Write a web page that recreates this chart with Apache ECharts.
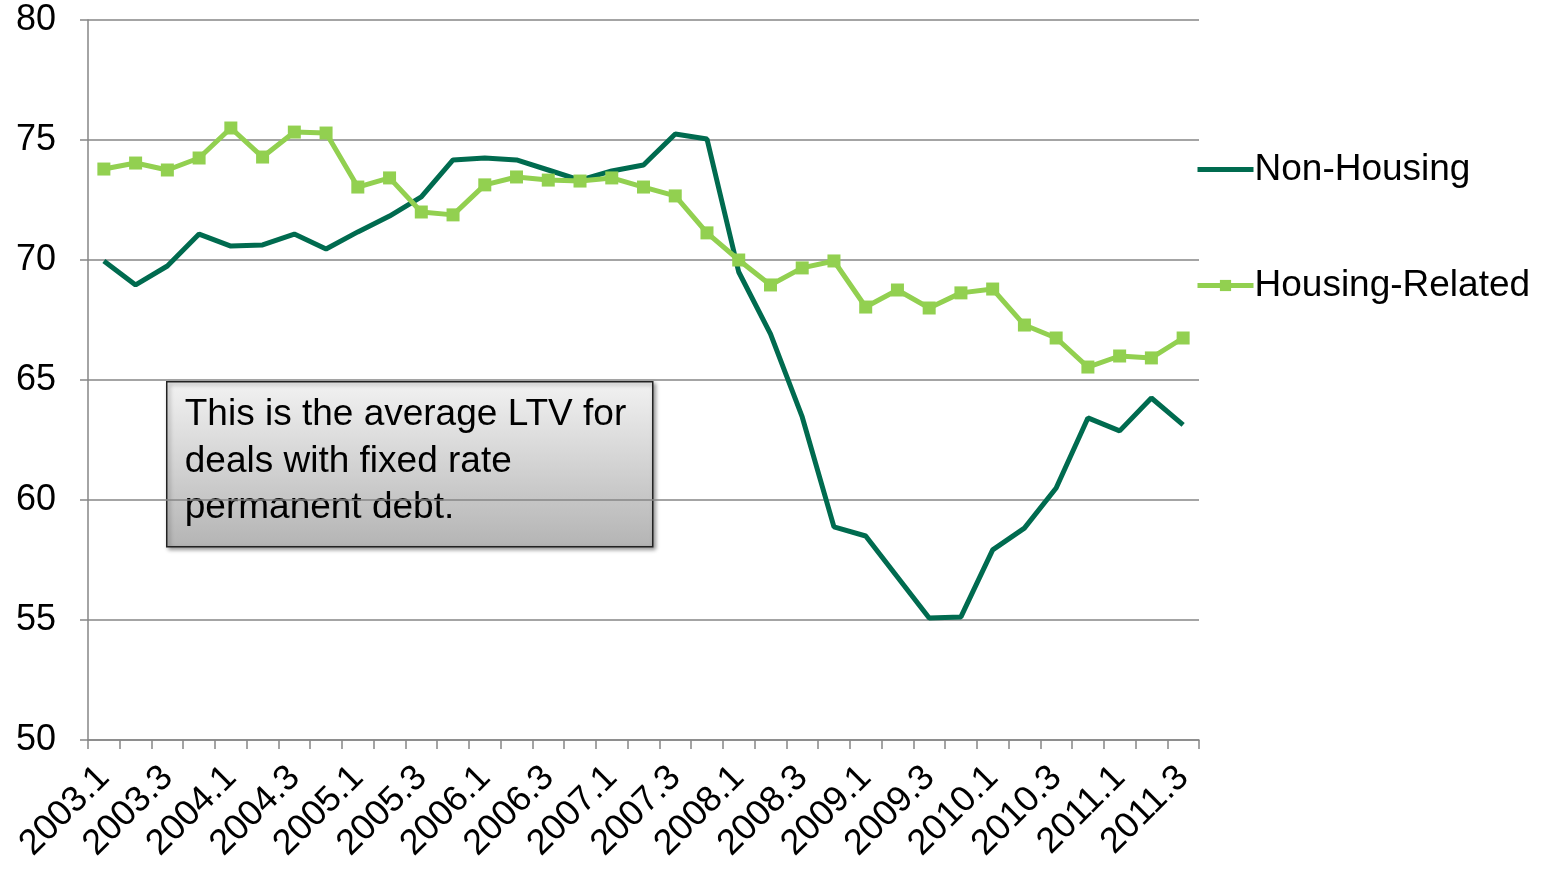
<!DOCTYPE html>
<html>
<head>
<meta charset="utf-8">
<script src="https://cdn.jsdelivr.net/npm/echarts@6/dist/echarts.min.js"></script>
<style>
html,body{margin:0;padding:0;background:#fff;}
#chart{width:1552px;height:869px;}
</style>
</head>
<body>
<div id="chart"></div>
<script>
const categories = ['2003.1','2003.2','2003.3','2003.4','2004.1','2004.2','2004.3','2004.4','2005.1','2005.2','2005.3','2005.4','2006.1','2006.2','2006.3','2006.4','2007.1','2007.2','2007.3','2007.4','2008.1','2008.2','2008.3','2008.4','2009.1','2009.2','2009.3','2009.4','2010.1','2010.2','2010.3','2010.4','2011.1','2011.2','2011.3'];
const nonHousing = [69.96,68.96,69.75,71.08,70.58,70.63,71.08,70.46,71.17,71.83,72.63,74.17,74.25,74.17,73.75,73.33,73.71,73.96,75.25,75.04,69.5,66.92,63.46,58.88,58.5,56.79,55.08,55.13,57.92,58.83,60.5,63.42,62.88,64.25,63.13];
const housingRelated = [73.79,74.04,73.75,74.25,75.5,74.29,75.33,75.29,73.04,73.42,72.0,71.88,73.13,73.46,73.33,73.29,73.42,73.04,72.67,71.13,70.0,68.96,69.67,69.96,68.04,68.75,68.0,68.63,68.79,67.29,66.75,65.54,66.0,65.92,66.75];
const yTicks = {min: 50, max: 80, interval: 5};
const noteText = 'This is the average LTV for\ndeals with fixed rate\npermanent debt.';

const FONT = '"Liberation Sans", Arial, sans-serif';
const chart = echarts.init(document.getElementById('chart'));
chart.setOption({
  animation: false,
  backgroundColor: '#fff',
  textStyle: {fontFamily: FONT},
  grid: {left: 88, right: 353, top: 20, bottom: 129, containLabel: false},
  xAxis: {
    type: 'category',
    data: categories,
    boundaryGap: true,
    axisLine: {lineStyle: {color: '#868686', width: 1.5}},
    axisTick: {show: true, interval: 0, length: 9, lineStyle: {color: '#868686', width: 1.5}},
    axisLabel: {interval: 1, rotate: 45, fontSize: 36, color: '#000', fontFamily: FONT, margin: 32}
  },
  yAxis: {
    type: 'value',
    min: yTicks.min, max: yTicks.max, interval: yTicks.interval,
    axisLine: {show: true, lineStyle: {color: '#868686', width: 1.5}},
    axisTick: {show: true, length: 8, lineStyle: {color: '#868686', width: 1.5}},
    axisLabel: {fontSize: 36, color: '#000', fontFamily: FONT, margin: 32},
    splitLine: {lineStyle: {color: '#868686', width: 1.5}}
  },
  legend: {
    orient: 'vertical',
    left: 1190,
    top: 146,
    itemGap: 79,
    itemWidth: 56,
    itemHeight: 14,
    textStyle: {fontSize: 37, color: '#000', fontFamily: FONT, padding: [0,0,0,-4]},
    data: [
      {name: 'Non-Housing', lineStyle: {width: 5}, itemStyle: {opacity: 0}},
      {name: 'Housing-Related', lineStyle: {width: 5}}
    ]
  },
  series: [
    {
      name: 'Non-Housing',
      type: 'line',
      data: nonHousing,
      symbol: 'none',
      lineStyle: {color: '#006B4F', width: 5},
      itemStyle: {color: '#006B4F'}
    },
    {
      name: 'Housing-Related',
      type: 'line',
      data: housingRelated,
      symbol: 'rect',
      symbolSize: 13,
      lineStyle: {color: '#92D050', width: 5},
      itemStyle: {color: '#92D050'}
    }
  ],
  graphic: [
    {
      type: 'group',
      left: 166, top: 381,
      children: [
        {
          type: 'rect',
          shape: {x: 0, y: 0, width: 486, height: 165},
          style: {
            fill: new echarts.graphic.LinearGradient(0, 0, 0, 1, [
              {offset: 0, color: '#f2f2f2'},
              {offset: 1, color: '#b4b4b4'}
            ]),
            stroke: '#222',
            lineWidth: 1.5,
            shadowBlur: 4,
            shadowOffsetX: 2,
            shadowOffsetY: 2,
            shadowColor: 'rgba(0,0,0,0.4)'
          }
        },
        {
          type: 'text',
          x: 18, y: 10,
          style: {
            text: noteText,
            font: '37px ' + FONT,
            fill: '#000',
            lineHeight: 46.5
          }
        }
      ]
    }
  ]
});
</script>
</body>
</html>
